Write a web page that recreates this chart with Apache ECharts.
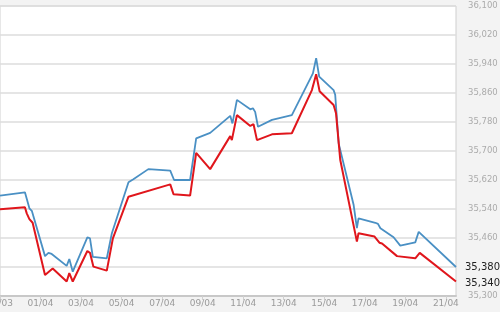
<!DOCTYPE html>
<html>
<head>
<meta charset="utf-8">
<script src="https://cdn.jsdelivr.net/npm/echarts@6/dist/echarts.min.js"></script>
<style>
html,body{margin:0;padding:0;background:#f3f3f3;}
#c{width:500px;height:312px;}
</style>
</head>
<body>
<div id="c"></div>
<script>
// x values: days since 30/03
var xTickLabels = ['30/03','01/04','03/04','05/04','07/04','09/04','11/04','13/04','15/04','17/04','19/04','21/04'];
var yTickValues = [35300,35380,35460,35540,35620,35700,35780,35860,35940,36020,36100];

var blueDays = [0,1.23,1.32,1.45,1.57,2.22,2.39,2.55,3.29,3.42,3.59,4.31,4.44,4.58,5.27,5.52,6.34,6.58,7.32,8.40,8.48,8.59,9.38,9.68,10.37,11.36,11.47,11.69,12.35,12.48,12.59,12.73,13.42,14.40,15.44,15.60,15.75,16.46,16.54,16.71,17.45,17.61,17.69,18.52,18.65,18.77,18.81,19.42,19.75,20.49,20.66,22.50];
var blueValues = [35577,35586,35568,35542,35535,35410,35419,35416,35383,35402,35367,35462,35459,35408,35404,35473,35614,35622,35650,35646,35650,35620,35620,35735,35750,35797,35776,35841,35815,35818,35808,35767,35786,35799,35914,35956,35905,35868,35855,35721,35551,35487,35514,35502,35499,35487,35490,35462,35439,35448,35477,35380];

var redDays = [0,1.23,1.32,1.45,1.53,1.61,2.22,2.60,3.29,3.42,3.59,4.31,4.44,4.61,5.27,5.57,6.34,8.40,8.56,9.38,9.68,10.37,11.36,11.44,11.69,12.35,12.51,12.68,13.42,14.40,15.39,15.60,15.77,16.46,16.58,16.79,17.61,17.69,18.48,18.72,18.85,19.59,20.49,20.71,22.50];
var redValues = [35539,35545,35528,35512,35508,35502,35358,35376,35340,35363,35340,35424,35419,35381,35370,35459,35574,35608,35581,35577,35695,35650,35741,35730,35799,35769,35774,35730,35746,35749,35868,35912,35865,35827,35804,35675,35450,35473,35464,35447,35445,35410,35404,35419,35340];

function pairs(xs, ys){ return xs.map(function(x,i){ return [x, ys[i]]; }); }
function fmtNum(v){ return Math.round(v).toLocaleString('en-US'); }

var chart = echarts.init(document.getElementById('c'), null, {renderer:'canvas'});
chart.setOption({
  animation: false,
  backgroundColor: '#f3f3f3',
  grid: {left: 0, right: 44, top: 6, bottom: 16, containLabel: false, outerBoundsMode: 'none',
    show: true, backgroundColor: '#ffffff', borderColor: '#cfcfcf', borderWidth: 1},
  xAxis: {
    type: 'value', min: 0, max: 22.5, interval: 2,
    axisLine: {show: true, lineStyle: {color: '#c8c8c8', width: 2}},
    axisTick: {show: true, length: 4, lineStyle: {color: '#d0d0d0'}},
    splitLine: {show: false},
    axisLabel: {
      color: '#9a9a9a', fontSize: 9, fontFamily: 'DejaVu Sans', margin: 3,
      showMaxLabel: false,
      formatter: function(v){ var i = Math.round(v/2); return xTickLabels[i] || ''; }
    }
  },
  yAxis: {
    type: 'value', position: 'right', min: yTickValues[0], max: yTickValues[yTickValues.length-1], interval: 80,
    axisLine: {show: false}, axisTick: {show: false},
    splitLine: {show: true, lineStyle: {color: '#dcdcdc', width: 1.5}},
    axisLabel: {
      color: '#ababab', fontSize: 8.5, fontFamily: 'DejaVu Sans', margin: 12,
      formatter: function(v){ return v === blueValues[blueValues.length-1] ? '' : fmtNum(v); }
    }
  },
  series: [
    {
      type: 'line', data: pairs(blueDays, blueValues), showSymbol: false, symbol: 'none',
      lineStyle: {color: '#4a90c4', width: 1.8},
      endLabel: {show: true, color: '#222', fontSize: 10, fontFamily: 'DejaVu Sans', distance: 9,
        formatter: function(p){ return fmtNum(p.value[1]); }}
    },
    {
      type: 'line', data: pairs(redDays, redValues), showSymbol: false, symbol: 'none',
      lineStyle: {color: '#e0161c', width: 2},
      endLabel: {show: true, color: '#222', fontSize: 10, fontFamily: 'DejaVu Sans', distance: 9, offset: [0, 2],
        formatter: function(p){ return fmtNum(p.value[1]); }}
    }
  ]
});
</script>
</body>
</html>
